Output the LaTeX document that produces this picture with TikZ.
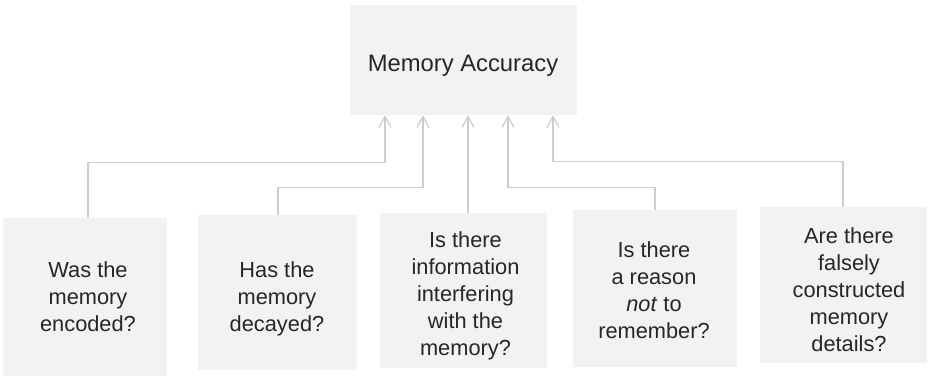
\documentclass[tikz,border=0pt]{standalone}
\usepackage{fontspec}
\setmainfont{Liberation Sans}
\usetikzlibrary{arrows.meta}
\definecolor{boxfill}{HTML}{F2F2F2}
\definecolor{linecol}{HTML}{CDCDCD}
\definecolor{txtcol}{HTML}{262626}
\tikzset{
  qbox/.style={rectangle, fill=boxfill, draw=none, inner sep=0pt},
  qtext/.style={inner sep=0pt, align=center, text=txtcol,
    font=\fontsize{21.8pt}{27pt}\selectfont},
  toptext/.style={inner sep=0pt, text=txtcol, font=\fontsize{23.8pt}{28pt}\selectfont},
  conn/.style={draw=linecol, line width=1.2pt,
    -{Straight Barb[length=11pt,width=12pt,line width=1.2pt]}}
}
\begin{document}
\begin{tikzpicture}[x=1pt,y=-1pt]
\useasboundingbox (0,0) rectangle (929,377);
\fill[white] (0,0) rectangle (929,377);
% boxes
\node[qbox, minimum width=227pt, minimum height=110pt] (top) at (463.5,60) {};
\node[qbox, minimum width=164pt, minimum height=158pt] (b1) at (85,297) {};
\node[qbox, minimum width=159pt, minimum height=155pt] (b2) at (277.5,292.5) {};
\node[qbox, minimum width=167pt, minimum height=155pt] (b3) at (463.5,290.5) {};
\node[qbox, minimum width=164pt, minimum height=157pt] (b4) at (655,288.5) {};
\node[qbox, minimum width=167pt, minimum height=156pt] (b5) at (843.5,285) {};
% texts
\node[toptext] (tt) at (463,66) {Memory Accuracy};
\node[qtext] (t1) at (88,297) {Was the\\memory\\encoded?};
\node[qtext] (t2) at (277,299) {Has the\\memory\\decayed?};
\node[qtext] (t3) at (465.5,296) {Is there\\information\\interfering\\with the\\memory?};
\node[qtext] (t4) at (654,290.3) {Is there\\a reason\\\textit{not} to\\remember?};
\node[qtext] (t5) at (849,289.8) {Are there\\falsely\\constructed\\memory\\details?};
% connectors
\draw[conn] (t1 |- b1.north) -- ++(0,-55) -| ([xshift=-78.5pt]top.south);
\draw[conn] (278,0 |- b2.north) -- ++(0,-27) -| ([xshift=-40.5pt]top.south);
\draw[conn] (468,0 |- b3.north) -- (468,0 |- top.south);
\draw[conn] (655,0 |- b4.north) -- ++(0,-22) -| ([xshift=44.5pt]top.south);
\draw[conn] (843,0 |- b5.north) -- ++(0,-45) -| ([xshift=89.5pt]top.south);
\end{tikzpicture}
\end{document}
